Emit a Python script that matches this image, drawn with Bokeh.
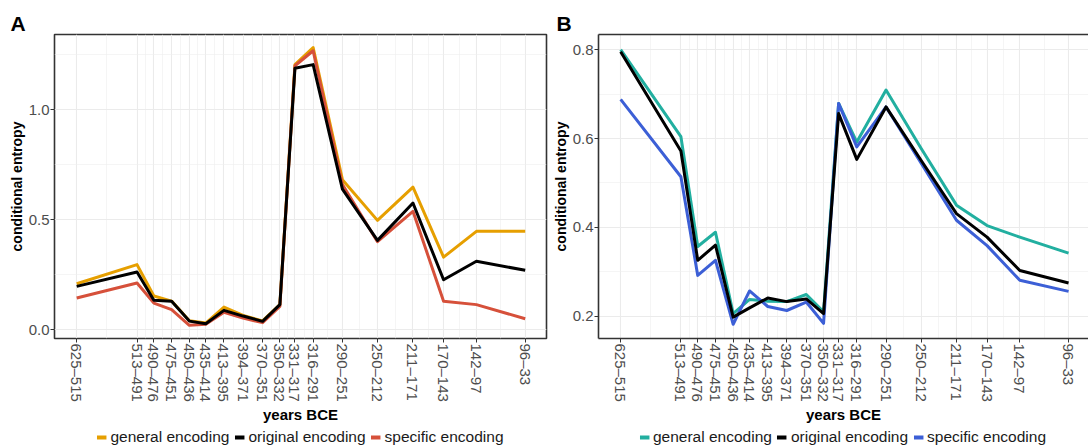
from bokeh.plotting import figure
from bokeh.models import Range1d, FixedTicker, NumeralTickFormatter, Legend, LegendItem, LinearAxis
from bokeh.layouts import row, column
from bokeh.embed import file_html
from bokeh.resources import INLINE

# ---- data ----
period_start = [625, 513, 490, 475, 450, 435, 413, 394, 370, 350, 331, 316, 290, 250, 211, 170, 142, 96]
period_end = [515, 491, 476, 451, 436, 414, 395, 371, 351, 332, 317, 291, 251, 212, 171, 143, 97, 33]
period_labels = ["625–515", "513–491", "490–476", "475–451", "450–436", "435–414", "413–395",
                 "394–371", "370–351", "350–332", "331–317", "316–291", "290–251", "250–212",
                 "211–171", "170–143", "142–97", "96–33"]

a_general = [0.209, 0.296, 0.153, 0.130, 0.041, 0.030, 0.103, 0.065, 0.040, 0.114,
             1.205, 1.283, 0.682, 0.497, 0.648, 0.330, 0.447, 0.447]
a_original = [0.197, 0.262, 0.134, 0.129, 0.039, 0.027, 0.088, 0.062, 0.038, 0.114,
              1.189, 1.205, 0.639, 0.406, 0.576, 0.227, 0.311, 0.270]
a_specific = [0.144, 0.212, 0.121, 0.091, 0.020, 0.025, 0.079, 0.053, 0.032, 0.106,
              1.200, 1.268, 0.660, 0.400, 0.538, 0.129, 0.114, 0.050]

b_general = [0.800, 0.604, 0.357, 0.389, 0.206, 0.238, 0.234, 0.233, 0.249, 0.210,
             0.679, 0.592, 0.709, 0.578, 0.450, 0.404, 0.378, 0.342]
b_original = [0.795, 0.572, 0.326, 0.360, 0.198, 0.219, 0.241, 0.233, 0.239, 0.206,
              0.656, 0.553, 0.671, 0.551, 0.431, 0.378, 0.303, 0.275]
b_specific = [0.688, 0.514, 0.292, 0.326, 0.182, 0.257, 0.222, 0.213, 0.232, 0.184,
              0.679, 0.581, 0.671, 0.545, 0.416, 0.359, 0.281, 0.256]

series_names = ["general encoding", "original encoding", "specific encoding"]

# x position of each period = its midpoint year
x_mid = [(s + e) / 2 for s, e in zip(period_start, period_end)]
x_minor = [(x_mid[i] + x_mid[i + 1]) / 2 for i in range(len(x_mid) - 1)]

FONT = "Liberation Sans"
MAIN_H = 427
LEG_H = 20
TOP = 34
BOTTOM = MAIN_H - 338
SPINE = "#333333"


def make_panel(letter, gen, orig, spec, gen_color, spec_color, y_lo, y_hi,
               yticks, yminor, width, border_left, border_right, x_end, title_offset,
               open_right=False):
    p = figure(width=width, height=MAIN_H,
               x_range=Range1d(595.0, x_end), y_range=Range1d(y_lo, y_hi),
               output_backend="svg", toolbar_location=None,
               min_border_left=border_left, min_border_right=border_right,
               min_border_top=TOP, min_border_bottom=BOTTOM)
    p.background_fill_color = "white"
    p.border_fill_color = "white"

    p.title.text = letter
    p.title.text_font = FONT
    p.title.text_font_size = "21px"
    p.title.text_font_style = "bold"
    p.title.text_color = "black"
    p.title.align = "left"
    p.title.offset = title_offset
    p.title.standoff = 0

    p.xaxis.ticker = FixedTicker(ticks=x_mid, minor_ticks=x_minor)
    p.xaxis.major_label_overrides = {float(x): lab for x, lab in zip(x_mid, period_labels)}
    p.xaxis.major_label_orientation = "vertical"
    p.xaxis.axis_label = "years BCE"
    p.yaxis.ticker = FixedTicker(ticks=yticks, minor_ticks=yminor)
    p.yaxis.formatter = NumeralTickFormatter(format="0.0")
    p.yaxis.axis_label = "conditional entropy"

    for ax in (p.xaxis[0], p.yaxis[0]):
        ax.major_tick_line_color = SPINE
        ax.major_tick_out = 4
        ax.major_tick_in = 0
        ax.minor_tick_line_color = None
        ax.major_label_text_font = FONT
        ax.major_label_text_font_size = "15px"
        ax.major_label_text_color = "#4D4D4D"
        ax.major_label_standoff = 1
        ax.axis_label_text_font = FONT
        ax.axis_label_text_font_style = "bold"
        ax.axis_label_text_color = "black"
        ax.axis_label_standoff = 1
    p.xaxis.axis_label_text_font_size = "15px"
    p.yaxis.axis_label_text_font_size = "14px"

    if open_right:
        # panel runs past the picture's right edge: draw left, bottom, top borders only
        p.outline_line_color = None
        for ax in (p.xaxis[0], p.yaxis[0]):
            ax.axis_line_color = SPINE
            ax.axis_line_width = 1.6
        top = LinearAxis(ticker=FixedTicker(ticks=[]), axis_line_color=SPINE,
                         axis_line_width=1.6, major_tick_line_color=None,
                         minor_tick_line_color=None, major_label_text_font_size="0px")
        p.add_layout(top, "above")
    else:
        p.outline_line_color = SPINE
        p.outline_line_width = 1.6
        for ax in (p.xaxis[0], p.yaxis[0]):
            ax.axis_line_color = None

    for g in (p.xgrid[0], p.ygrid[0]):
        g.grid_line_color = "#EBEBEB"
        g.grid_line_width = 1.1
        g.minor_grid_line_color = "#EFEFEF"
        g.minor_grid_line_width = 0.6

    p.line(x_mid, gen, line_color=gen_color, line_width=3, line_join="round")
    p.line(x_mid, spec, line_color=spec_color, line_width=3, line_join="round")
    p.line(x_mid, orig, line_color="black", line_width=3, line_join="round")
    return p


def make_legend(gen_color, spec_color, width, border_left, border_right):
    q = figure(width=width, height=LEG_H,
               x_range=Range1d(0, 1), y_range=Range1d(0, 1),
               output_backend="svg", toolbar_location=None,
               x_axis_location=None, y_axis_location=None,
               min_border_left=border_left, min_border_right=border_right,
               min_border_top=0, min_border_bottom=0)
    q.outline_line_color = None
    q.xgrid.visible = False
    q.ygrid.visible = False
    # keys only: the lines lie outside the visible range
    off = [5, 6]
    r_gen = q.line(off, off, line_color=gen_color, line_width=4)
    r_orig = q.line(off, off, line_color="black", line_width=4)
    r_spec = q.line(off, off, line_color=spec_color, line_width=4)
    legend = Legend(items=[LegendItem(label=series_names[0], renderers=[r_gen]),
                           LegendItem(label=series_names[1], renderers=[r_orig]),
                           LegendItem(label=series_names[2], renderers=[r_spec])],
                    orientation="horizontal", location="center")
    legend.border_line_color = None
    legend.background_fill_alpha = 0
    legend.padding = 0
    legend.margin = 0
    legend.spacing = 5
    legend.label_standoff = 4
    legend.glyph_width = 10
    legend.glyph_height = 14
    legend.label_height = 14
    legend.label_text_font = FONT
    legend.label_text_font_size = "15.5px"
    legend.label_text_color = "#1A1A1A"
    q.add_layout(legend, "center")
    return q


WA, WB = 549, 539
pa = make_panel("A", a_general, a_original, a_specific, "#E69F00", "#D6503A",
                -0.040, 1.342, [0.0, 0.5, 1.0], [0.25, 0.75, 1.25],
                WA, 54, 3, 40.5, -44)
pb = make_panel("B", b_general, b_original, b_specific, "#22AFA0", "#3C5FD6",
                0.150, 0.834, [0.2, 0.4, 0.6, 0.8], [0.3, 0.5, 0.7],
                WB, 48, 0, 42.0, -42, open_right=True)
la = make_legend("#E69F00", "#D6503A", WA, 54, 3)
lb = make_legend("#22AFA0", "#3C5FD6", WB, 48, 0)

layout = column(row(pa, pb), row(la, lb))
open("out.html", "w").write(file_html(layout, INLINE))
